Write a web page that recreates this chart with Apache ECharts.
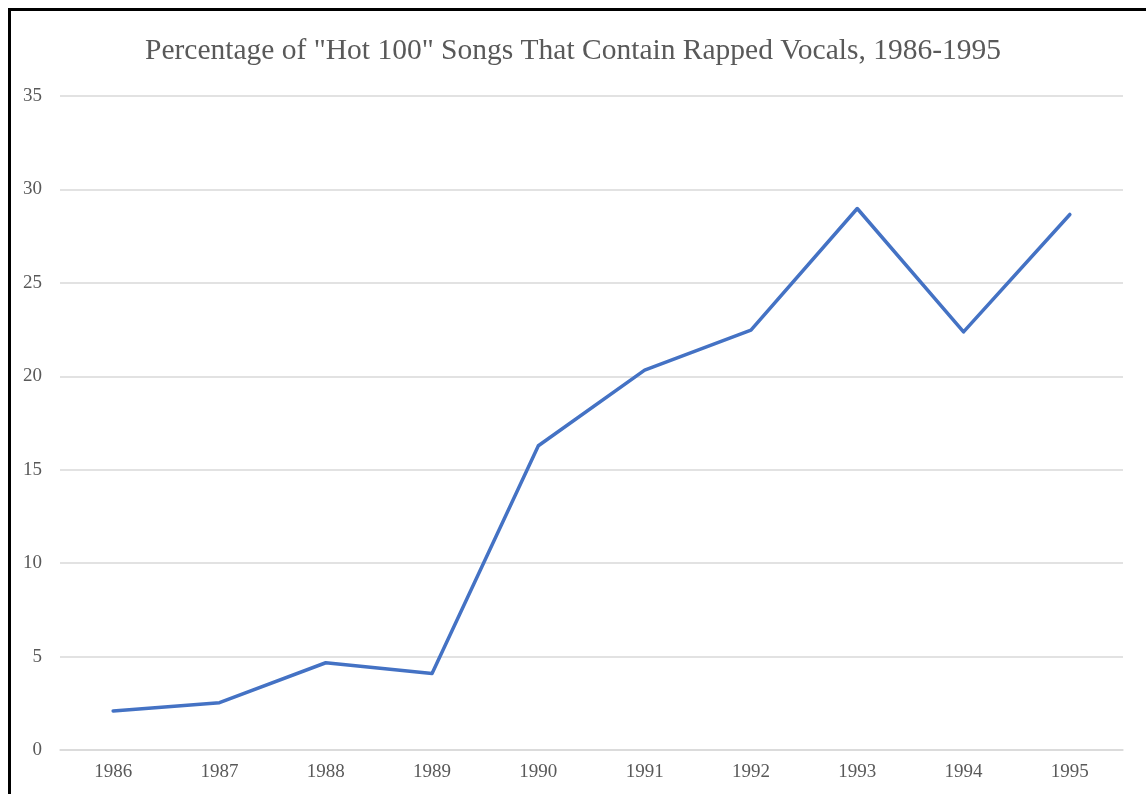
<!DOCTYPE html>
<html>
<head>
<meta charset="utf-8">
<script src="https://cdn.jsdelivr.net/npm/echarts@6/dist/echarts.min.js"></script>
<style>
html,body{margin:0;padding:0;background:#fff;overflow:hidden;}
#frame{position:absolute;left:8px;top:8px;width:1200px;height:900px;border-top:3px solid #000;border-left:3px solid #000;}
#chart{position:absolute;left:0;top:0;width:1146px;height:794px;}
</style>
</head>
<body>
<div id="frame"></div>
<div id="chart"></div>
<script>
const titleText = 'Percentage of "Hot 100" Songs That Contain Rapped Vocals, 1986-1995';
const years = ['1986','1987','1988','1989','1990','1991','1992','1993','1994','1995'];
const rapPercent = [2.09, 2.53, 4.67, 4.10, 16.28, 20.33, 22.47, 28.98, 22.38, 28.66];
const yTicks = [0, 5, 10, 15, 20, 25, 30, 35];

const chart = echarts.init(document.getElementById('chart'));
const font = '"Liberation Serif", "Times New Roman", serif';
chart.setOption({
  animation: false,
  title: {
    text: titleText,
    left: 'center',
    top: 31,
    textStyle: {fontFamily: font, fontSize: 29.5, fontWeight: 'normal', color: '#595959'}
  },
  grid: {left: 60, right: 23, top: 96, bottom: 44, containLabel: false},
  xAxis: {
    type: 'category',
    data: years,
    boundaryGap: true,
    axisLine: {lineStyle: {color: '#d9d9d9', width: 1.5}},
    axisTick: {show: false},
    axisLabel: {fontFamily: font, fontSize: 19, color: '#595959', margin: 13}
  },
  yAxis: {
    type: 'value',
    min: yTicks[0],
    max: yTicks[yTicks.length - 1],
    interval: 5,
    axisLine: {show: false},
    axisTick: {show: false},
    splitLine: {lineStyle: {color: '#d9d9d9', width: 1.5}},
    axisLabel: {fontFamily: font, fontSize: 19, color: '#595959', margin: 18}
  },
  series: [{
    type: 'line',
    data: rapPercent,
    symbol: 'none',
    lineStyle: {color: '#4472C4', width: 3.5, cap: 'round', join: 'round'}
  }]
});
</script>
</body>
</html>
